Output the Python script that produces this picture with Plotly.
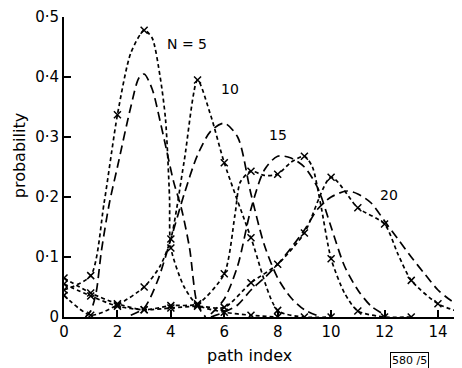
import plotly.graph_objects as go

# ---- data ----
# exact (short-dashed, x markers at integer path indices)
n5_exact_x = [0, 1, 1.5, 2, 2.5, 3, 3.3, 3.6, 3.8, 3.95, 4, 4.5, 5, 6, 7, 8]
n5_exact_y = [0.045, 0.069, 0.19, 0.337, 0.44, 0.478, 0.465, 0.40, 0.33, 0.20, 0.115, 0.05, 0.02, 0.008, 0.003, 0.0]

n10_exact_x = [0, 1, 2, 3, 3.6, 4, 4.5, 5, 5.5, 6, 7, 8, 9, 10]
n10_exact_y = [0.036, 0.003, 0.02, 0.05, 0.085, 0.13, 0.26, 0.395, 0.335, 0.257, 0.132, 0.011, 0.0, 0.0]

n15_exact_x = [0, 1, 2, 3, 4, 5, 6, 6.4, 6.6, 7, 7.5, 8, 8.5, 9, 9.3, 9.6, 10, 10.5, 11, 12, 13]
n15_exact_y = [0.065, 0.04, 0.022, 0.012, 0.019, 0.022, 0.072, 0.17, 0.225, 0.243, 0.236, 0.238, 0.258, 0.268, 0.25, 0.19, 0.097, 0.04, 0.01, 0.0, 0.0]

n20_exact_x = [0, 1, 2, 3, 4, 5, 6, 7, 8, 9, 10, 11, 12, 12.5, 13, 14, 15]
n20_exact_y = [0.055, 0.035, 0.018, 0.012, 0.015, 0.018, 0.016, 0.057, 0.088, 0.14, 0.233, 0.182, 0.155, 0.105, 0.061, 0.022, 0.006]

# approximate (long-dashed smooth curves)
n5_approx_x = [0.8, 1.0, 1.2, 1.4, 1.7, 2.0, 2.5, 2.8, 3.0, 3.3, 3.6, 3.85, 4.1, 4.4, 4.7, 5.0, 5.3]
n5_approx_y = [0.0, 0.01, 0.04, 0.11, 0.19, 0.25, 0.35, 0.398, 0.405, 0.38, 0.326, 0.276, 0.226, 0.18, 0.115, 0.02, 0.0]

n10_approx_x = [2.5, 3, 3.5, 4, 4.5, 5, 5.5, 6, 6.5, 7, 7.5, 8, 8.5, 9, 9.5]
n10_approx_y = [0.003, 0.015, 0.06, 0.13, 0.205, 0.27, 0.31, 0.323, 0.30, 0.205, 0.12, 0.065, 0.032, 0.012, 0.002]

n15_approx_x = [5.5, 6, 6.5, 7, 7.5, 8, 8.5, 9, 9.5, 10, 10.5, 11, 11.5, 12]
n15_approx_y = [0.005, 0.03, 0.085, 0.18, 0.245, 0.268, 0.265, 0.25, 0.215, 0.15, 0.085, 0.045, 0.018, 0.004]

n20_approx_x = [5.5, 6.0, 6.5, 7.0, 7.5, 8.0, 8.5, 9.0, 9.5, 10.0, 10.6, 11.0, 11.5, 12.0, 12.5, 13.0, 13.5, 14.0, 14.5, 15.0]
n20_approx_y = [0.0, 0.008, 0.02, 0.045, 0.065, 0.088, 0.115, 0.145, 0.18, 0.2, 0.21, 0.205, 0.19, 0.16, 0.13, 0.1, 0.072, 0.045, 0.027, 0.015]

x_tick_vals = [0, 2, 4, 6, 8, 10, 12, 14]
y_tick_vals = [0, 0.1, 0.2, 0.3, 0.4, 0.5]
y_tick_text = ["0", "0·1", "0·2", "0·3", "0·4", "0·5"]

curve_labels = ["N = 5", "10", "15", "20"]
label_x = [4.6, 6.2, 8.0, 12.15]
label_y = [0.455, 0.38, 0.304, 0.203]

# ---- figure ----
FONT = "DejaVu Sans"
SHORT = "4px,3px"
LONG = "9px,5px"

fig = go.Figure()

exact = [(n5_exact_x, n5_exact_y), (n10_exact_x, n10_exact_y),
         (n15_exact_x, n15_exact_y), (n20_exact_x, n20_exact_y)]
approx = [(n5_approx_x, n5_approx_y), (n10_approx_x, n10_approx_y),
          (n15_approx_x, n15_approx_y), (n20_approx_x, n20_approx_y)]

for xs, ys in approx:
    fig.add_trace(go.Scatter(x=xs, y=ys, mode="lines",
                             line=dict(color="black", width=1.7, dash=LONG,
                                       shape="spline", smoothing=0.8),
                             hoverinfo="skip", showlegend=False))

for xs, ys in exact:
    fig.add_trace(go.Scatter(x=xs, y=ys, mode="lines",
                             line=dict(color="black", width=1.7, dash=SHORT,
                                       shape="spline", smoothing=0.7),
                             hoverinfo="skip", showlegend=False))
    mx = [x for x in xs if float(x).is_integer()]
    my = [y for x, y in zip(xs, ys) if float(x).is_integer()]
    fig.add_trace(go.Scatter(x=mx, y=my, mode="markers",
                             marker=dict(symbol="x-thin", size=7,
                                         line=dict(color="black", width=1.5)),
                             hoverinfo="skip", showlegend=False))

for t, lx, ly in zip(curve_labels, label_x, label_y):
    fig.add_annotation(x=lx, y=ly, text=t, showarrow=False,
                       xanchor="center", yanchor="middle",
                       font=dict(family=FONT, size=14, color="black"))

fig.add_annotation(xref="paper", yref="paper", x=-0.113, y=0.536,
                   text="probability", textangle=-90, showarrow=False,
                   xanchor="center", yanchor="middle",
                   font=dict(family=FONT, size=16, color="black"))
fig.add_annotation(xref="paper", yref="paper", x=0.467, y=-0.129,
                   text="path index", showarrow=False,
                   xanchor="center", yanchor="middle",
                   font=dict(family=FONT, size=16, color="black"))
fig.add_annotation(xref="paper", yref="paper", x=0.869, y=-0.146,
                   text="580 /5", showarrow=False,
                   xanchor="center", yanchor="middle",
                   bordercolor="black", borderwidth=1, borderpad=1,
                   font=dict(family=FONT, size=11, color="black"))

# page body has an 8px default margin, so the figure is 8px smaller than the window
fig.update_layout(
    width=454, height=360,
    margin=dict(l=56, r=0, t=7, b=51),
    paper_bgcolor="white", plot_bgcolor="white",
    font=dict(family=FONT, size=14, color="black"),
    xaxis=dict(range=[0, 14.9], tickvals=x_tick_vals, ticks="inside",
               ticklen=7, tickwidth=1.5, tickcolor="black",
               showline=True, linecolor="black", linewidth=1.8,
               showgrid=False, zeroline=False, tickfont=dict(size=15),
               ticklabeloverflow="allow"),
    yaxis=dict(range=[0, 0.5], tickvals=y_tick_vals, ticktext=y_tick_text,
               ticks="inside", ticklen=7, tickwidth=1.5, tickcolor="black",
               showline=True, linecolor="black", linewidth=1.8,
               showgrid=False, zeroline=False, tickfont=dict(size=15),
               ticklabeloverflow="allow"),
)

fig.write_html("out.html")
